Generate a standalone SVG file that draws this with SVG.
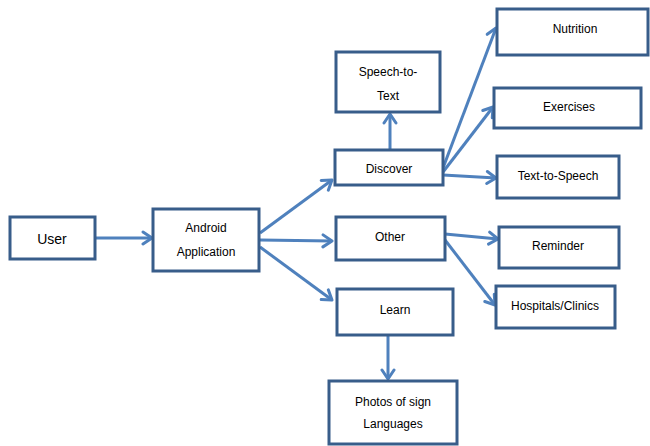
<svg xmlns="http://www.w3.org/2000/svg" width="650" height="446" viewBox="0 0 650 446">
<defs>
<marker id="ah" markerUnits="userSpaceOnUse" markerWidth="16" markerHeight="16" viewBox="0 0 16 16" refX="13" refY="8" orient="auto">
<path d="M4,2 L13,8 L4,14" fill="none" stroke="#4F81BD" stroke-width="3" stroke-linecap="round" stroke-linejoin="round"/>
</marker>
</defs>
<style>
.box{fill:#fff;stroke:#385D8A;stroke-width:3}
.t{font-family:"Liberation Sans",Arial,sans-serif;font-size:12px;fill:#000;text-anchor:middle}
.c{stroke:#4F81BD;stroke-width:3;fill:none;marker-end:url(#ah)}
</style>
<rect width="650" height="446" fill="#fff"/>
<g id="connectors">
<line class="c" x1="95" y1="238" x2="152" y2="238"/>
<line class="c" x1="260" y1="233" x2="332" y2="180"/>
<line class="c" x1="260" y1="240" x2="332" y2="241"/>
<line class="c" x1="260" y1="247" x2="332" y2="300"/>
<line class="c" x1="390" y1="150" x2="390" y2="114"/>
<line class="c" x1="443" y1="168" x2="496" y2="28"/>
<line class="c" x1="443" y1="172" x2="493" y2="107"/>
<line class="c" x1="443" y1="175" x2="496" y2="178"/>
<line class="c" x1="445" y1="234" x2="498" y2="239"/>
<line class="c" x1="445" y1="240" x2="495" y2="305"/>
<line class="c" x1="388" y1="335" x2="388" y2="379"/>
</g>
<g id="user"><rect class="box" x="10" y="217" width="85" height="42"/><text class="t" x="52" y="244" style="font-size:14px">User</text></g>
<g id="android"><rect class="box" x="153" y="209" width="106" height="62"/><text class="t" x="206" y="232">Android</text><text class="t" x="206" y="256">Application</text></g>
<g id="speech"><rect class="box" x="336" y="52" width="104" height="60"/><text class="t" x="388" y="76">Speech-to-</text><text class="t" x="388" y="100">Text</text></g>
<g id="discover"><rect class="box" x="335" y="150" width="108" height="35"/><text class="t" x="389" y="173">Discover</text></g>
<g id="other"><rect class="box" x="336" y="217" width="109" height="43"/><text class="t" x="390" y="241">Other</text></g>
<g id="learn"><rect class="box" x="337" y="289" width="116" height="46"/><text class="t" x="395" y="314">Learn</text></g>
<g id="photos"><rect class="box" x="329" y="381" width="128" height="63"/><text class="t" x="393" y="406">Photos of sign</text><text class="t" x="393" y="428">Languages</text></g>
<g id="nutrition"><rect class="box" x="497" y="9" width="151" height="46"/><text class="t" x="575" y="33">Nutrition</text></g>
<g id="exercises"><rect class="box" x="494" y="88" width="147" height="40"/><text class="t" x="569" y="111">Exercises</text></g>
<g id="tts"><rect class="box" x="497" y="156" width="122" height="42"/><text class="t" x="558" y="180">Text-to-Speech</text></g>
<g id="reminder"><rect class="box" x="499" y="227" width="120" height="41"/><text class="t" x="558" y="250">Reminder</text></g>
<g id="hospitals"><rect class="box" x="496" y="286" width="119" height="42"/><text class="t" x="555" y="310">Hospitals/Clinics</text></g>
</svg>
